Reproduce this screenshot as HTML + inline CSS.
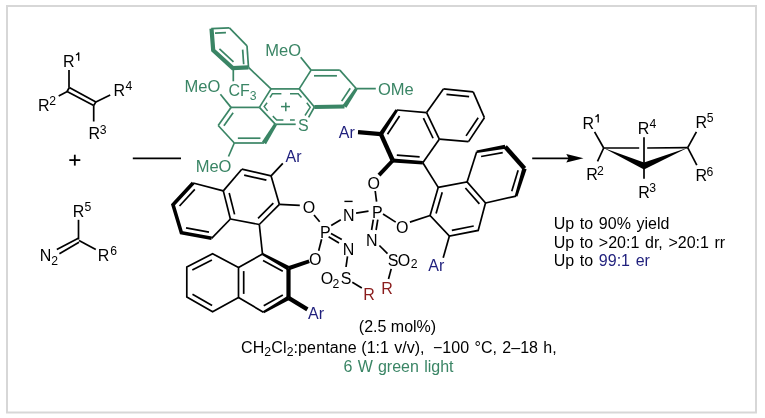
<!DOCTYPE html>
<html><head><meta charset="utf-8"><style>
html,body{margin:0;padding:0;background:#fff;}
svg{display:block;will-change:transform;}
text{font-family:"Liberation Sans",sans-serif;}
</style></head><body>
<svg width="765" height="418" viewBox="0 0 765 418">
<rect x="7" y="6" width="749" height="406.5" fill="none" stroke="#d7d7d7" stroke-width="2"/>
<line x1="69.00" y1="70.00" x2="69.00" y2="87.60" stroke="#000" stroke-width="1.7" stroke-linecap="butt"/>
<line x1="69.30" y1="87.50" x2="95.90" y2="101.90" stroke="#000" stroke-width="1.7" stroke-linecap="butt"/>
<line x1="67.10" y1="91.50" x2="93.70" y2="105.50" stroke="#000" stroke-width="1.7" stroke-linecap="butt"/>
<line x1="69.30" y1="87.50" x2="67.10" y2="91.50" stroke="#000" stroke-width="1.7" stroke-linecap="butt"/>
<line x1="95.90" y1="101.90" x2="93.70" y2="105.50" stroke="#000" stroke-width="1.7" stroke-linecap="butt"/>
<line x1="67.30" y1="91.60" x2="58.70" y2="95.90" stroke="#000" stroke-width="1.7" stroke-linecap="butt"/>
<line x1="95.90" y1="101.90" x2="110.20" y2="95.10" stroke="#000" stroke-width="1.7" stroke-linecap="butt"/>
<line x1="93.70" y1="105.50" x2="93.70" y2="121.50" stroke="#000" stroke-width="1.7" stroke-linecap="butt"/>
<text x="63.09" y="66.50" font-size="16" fill="#000" >R</text>
<path d="M75.90,54.94 C77.36,54.70 78.10,53.97 78.71,52.50 L78.71,60.80" stroke="#000" stroke-width="1.28" fill="none"/>
<text x="37.99" y="110.80" font-size="16" fill="#000" >R</text>
<text x="49.29" y="104.60" font-size="12.2" fill="#000" >2</text>
<text x="113.59" y="95.90" font-size="16" fill="#000" >R</text>
<text x="125.62" y="89.80" font-size="12.2" fill="#000" >4</text>
<text x="88.39" y="139.40" font-size="16" fill="#000" >R</text>
<text x="99.64" y="134.00" font-size="12.2" fill="#000" >3</text>
<line x1="69.30" y1="160.10" x2="80.30" y2="160.10" stroke="#000" stroke-width="1.8" stroke-linecap="butt"/>
<line x1="74.80" y1="154.70" x2="74.80" y2="165.60" stroke="#000" stroke-width="1.8" stroke-linecap="butt"/>
<line x1="78.50" y1="219.80" x2="78.50" y2="239.50" stroke="#000" stroke-width="1.7" stroke-linecap="butt"/>
<line x1="78.30" y1="238.30" x2="56.80" y2="249.50" stroke="#000" stroke-width="1.7" stroke-linecap="butt"/>
<line x1="79.00" y1="242.30" x2="59.40" y2="253.80" stroke="#000" stroke-width="1.7" stroke-linecap="butt"/>
<line x1="79.00" y1="240.50" x2="95.80" y2="249.60" stroke="#000" stroke-width="1.7" stroke-linecap="butt"/>
<text x="72.69" y="216.50" font-size="16" fill="#000" >R</text>
<text x="84.61" y="210.90" font-size="12.2" fill="#000" >5</text>
<text x="39.79" y="260.50" font-size="16" fill="#000" >N</text>
<text x="51.29" y="264.80" font-size="12.2" fill="#000" >2</text>
<text x="97.69" y="260.80" font-size="16" fill="#000" >R</text>
<text x="110.18" y="254.60" font-size="12.2" fill="#000" >6</text>
<line x1="132.80" y1="158.30" x2="181.00" y2="158.30" stroke="#000" stroke-width="1.7" stroke-linecap="butt"/>
<line x1="532.20" y1="158.30" x2="572.00" y2="158.30" stroke="#000" stroke-width="1.8" stroke-linecap="butt"/>
<polygon points="583.50,158.30 566.30,154.00 568.60,158.30 566.30,162.60" fill="#000"/>
<line x1="211.20" y1="28.60" x2="229.40" y2="27.90" stroke="#3a8565" stroke-width="1.7" stroke-linecap="butt"/>
<line x1="229.40" y1="27.90" x2="247.00" y2="45.80" stroke="#3a8565" stroke-width="1.7" stroke-linecap="butt"/>
<line x1="247.00" y1="45.80" x2="248.50" y2="67.40" stroke="#3a8565" stroke-width="1.7" stroke-linecap="butt"/>
<path d="M211.5,28.6 L213.2,50.2 L232.7,68.1 L248.5,67.4" stroke="#3a8565" stroke-width="4.2" fill="none" stroke-linejoin="miter" />
<line x1="215.02" y1="33.06" x2="225.94" y2="32.64" stroke="#3a8565" stroke-width="1.7" stroke-linecap="butt"/>
<line x1="219.45" y1="48.88" x2="233.49" y2="61.76" stroke="#3a8565" stroke-width="1.7" stroke-linecap="butt"/>
<line x1="242.65" y1="49.57" x2="243.67" y2="64.26" stroke="#3a8565" stroke-width="1.7" stroke-linecap="butt"/>
<line x1="248.50" y1="67.40" x2="271.00" y2="88.90" stroke="#3a8565" stroke-width="1.7" stroke-linecap="butt"/>
<line x1="233.30" y1="68.00" x2="233.30" y2="81.30" stroke="#3a8565" stroke-width="1.7" stroke-linecap="butt"/>
<text x="228.39" y="95.80" font-size="16" fill="#3a8565" >CF</text>
<text x="249.64" y="99.70" font-size="12.2" fill="#3a8565" >3</text>
<line x1="271.00" y1="88.90" x2="299.20" y2="88.90" stroke="#3a8565" stroke-width="1.7" stroke-linecap="butt"/>
<line x1="299.20" y1="88.90" x2="314.40" y2="107.00" stroke="#3a8565" stroke-width="1.7" stroke-linecap="butt"/>
<line x1="314.40" y1="107.00" x2="308.60" y2="117.30" stroke="#3a8565" stroke-width="1.7" stroke-linecap="butt"/>
<line x1="295.70" y1="124.30" x2="275.50" y2="124.30" stroke="#3a8565" stroke-width="1.7" stroke-linecap="butt"/>
<line x1="275.50" y1="124.30" x2="259.40" y2="107.40" stroke="#3a8565" stroke-width="1.7" stroke-linecap="butt"/>
<line x1="259.40" y1="107.40" x2="271.00" y2="88.90" stroke="#3a8565" stroke-width="1.7" stroke-linecap="butt"/>
<path d="M270,97.5 L272.4,93.7 L281.4,93.7" stroke="#3a8565" stroke-width="1.5" fill="none" stroke-linejoin="miter" />
<path d="M290,93.7 L298.2,93.7 L301.5,97.5" stroke="#3a8565" stroke-width="1.5" fill="none" stroke-linejoin="miter" />
<path d="M267.1,102.7 L264.2,106.6 L267.6,110.9" stroke="#3a8565" stroke-width="1.5" fill="none" stroke-linejoin="miter" />
<path d="M306.8,102.7 L310.2,107.3 L305,115.5" stroke="#3a8565" stroke-width="1.5" fill="none" stroke-linejoin="miter" />
<path d="M272.8,116.1 L276.7,120 L283.4,120" stroke="#3a8565" stroke-width="1.5" fill="none" stroke-linejoin="miter" />
<line x1="290.00" y1="120.00" x2="294.80" y2="120.00" stroke="#3a8565" stroke-width="1.5" stroke-linecap="butt"/>
<text x="298.07" y="131.40" font-size="16" fill="#3a8565" >S</text>
<line x1="281.00" y1="106.60" x2="290.00" y2="106.60" stroke="#3a8565" stroke-width="1.5" stroke-linecap="butt"/>
<line x1="285.80" y1="102.40" x2="285.80" y2="111.20" stroke="#3a8565" stroke-width="1.5" stroke-linecap="butt"/>
<line x1="231.00" y1="107.40" x2="259.40" y2="107.40" stroke="#3a8565" stroke-width="1.7" stroke-linecap="butt"/>
<line x1="231.00" y1="107.40" x2="218.20" y2="125.50" stroke="#3a8565" stroke-width="1.7" stroke-linecap="butt"/>
<line x1="218.20" y1="125.50" x2="234.30" y2="143.00" stroke="#3a8565" stroke-width="1.7" stroke-linecap="butt"/>
<line x1="234.30" y1="143.00" x2="264.00" y2="143.00" stroke="#3a8565" stroke-width="1.7" stroke-linecap="butt"/>
<polygon points="274.14,123.46 261.96,141.74 266.04,144.26 276.86,125.14" fill="#3a8565"/>
<line x1="233.13" y1="112.71" x2="223.91" y2="125.74" stroke="#3a8565" stroke-width="1.7" stroke-linecap="butt"/>
<line x1="237.86" y1="138.20" x2="260.44" y2="138.20" stroke="#3a8565" stroke-width="1.7" stroke-linecap="butt"/>
<line x1="299.20" y1="88.90" x2="311.10" y2="70.10" stroke="#3a8565" stroke-width="1.7" stroke-linecap="butt"/>
<line x1="311.10" y1="70.10" x2="339.80" y2="70.10" stroke="#3a8565" stroke-width="1.7" stroke-linecap="butt"/>
<line x1="339.80" y1="70.10" x2="356.40" y2="88.70" stroke="#3a8565" stroke-width="1.7" stroke-linecap="butt"/>
<polygon points="355.15,87.87 342.58,105.33 346.42,107.87 357.65,89.53" fill="#3a8565"/>
<polygon points="344.47,104.60 314.37,105.00 314.43,109.00 344.53,108.60" fill="#3a8565"/>
<line x1="313.97" y1="75.80" x2="336.93" y2="75.80" stroke="#3a8565" stroke-width="1.7" stroke-linecap="butt"/>
<line x1="350.24" y1="88.22" x2="341.67" y2="101.10" stroke="#3a8565" stroke-width="1.7" stroke-linecap="butt"/>
<text transform="translate(265.24,55.60) scale(1.035,1)" font-size="16" fill="#3a8565" >MeO</text>
<line x1="300.70" y1="57.30" x2="311.10" y2="70.10" stroke="#3a8565" stroke-width="1.7" stroke-linecap="butt"/>
<text transform="translate(377.92,95.10) scale(1.035,1)" font-size="16" fill="#3a8565" >OMe</text>
<line x1="356.40" y1="88.70" x2="375.80" y2="88.60" stroke="#3a8565" stroke-width="1.7" stroke-linecap="butt"/>
<text transform="translate(184.54,92.40) scale(1.035,1)" font-size="16" fill="#3a8565" >MeO</text>
<line x1="220.40" y1="94.20" x2="231.00" y2="107.40" stroke="#3a8565" stroke-width="1.7" stroke-linecap="butt"/>
<text transform="translate(195.64,171.50) scale(1.035,1)" font-size="16" fill="#3a8565" >MeO</text>
<line x1="234.30" y1="143.00" x2="228.50" y2="156.50" stroke="#3a8565" stroke-width="1.7" stroke-linecap="butt"/>
<path d="M193.1,183 L173,204.8 L181.4,232.8 L211.6,238.3" stroke="#000" stroke-width="3.6" fill="none" stroke-linejoin="miter" />
<line x1="193.10" y1="183.00" x2="223.30" y2="190.90" stroke="#000" stroke-width="1.7" stroke-linecap="butt"/>
<line x1="211.60" y1="238.30" x2="230.40" y2="219.00" stroke="#000" stroke-width="1.7" stroke-linecap="butt"/>
<line x1="223.30" y1="190.90" x2="230.40" y2="219.00" stroke="#000" stroke-width="1.7" stroke-linecap="butt"/>
<line x1="223.30" y1="190.90" x2="241.80" y2="169.20" stroke="#000" stroke-width="1.7" stroke-linecap="butt"/>
<line x1="241.80" y1="169.20" x2="271.10" y2="175.90" stroke="#000" stroke-width="1.7" stroke-linecap="butt"/>
<line x1="271.10" y1="175.90" x2="279.40" y2="204.40" stroke="#000" stroke-width="1.7" stroke-linecap="butt"/>
<line x1="279.40" y1="204.40" x2="259.30" y2="224.50" stroke="#000" stroke-width="1.7" stroke-linecap="butt"/>
<line x1="259.30" y1="224.50" x2="230.40" y2="219.00" stroke="#000" stroke-width="1.7" stroke-linecap="butt"/>
<line x1="194.81" y1="189.41" x2="179.53" y2="205.98" stroke="#000" stroke-width="1.7" stroke-linecap="butt"/>
<line x1="186.03" y1="227.95" x2="208.98" y2="232.13" stroke="#000" stroke-width="1.7" stroke-linecap="butt"/>
<line x1="229.19" y1="193.00" x2="234.59" y2="214.35" stroke="#000" stroke-width="1.7" stroke-linecap="butt"/>
<line x1="244.16" y1="175.07" x2="266.42" y2="180.17" stroke="#000" stroke-width="1.7" stroke-linecap="butt"/>
<line x1="273.31" y1="203.14" x2="258.04" y2="218.41" stroke="#000" stroke-width="1.7" stroke-linecap="butt"/>
<path d="M212.60,253.70 L238.50,267.50 L238.50,297.50 L212.60,311.80 L186.80,297.00 L186.80,267.10 Z" stroke="#000" stroke-width="1.7" fill="none" stroke-linejoin="miter" />
<line x1="238.50" y1="267.50" x2="262.50" y2="254.00" stroke="#000" stroke-width="1.7" stroke-linecap="butt"/>
<line x1="238.50" y1="297.50" x2="263.40" y2="312.20" stroke="#000" stroke-width="1.7" stroke-linecap="butt"/>
<polygon points="261.92,255.05 287.44,270.23 289.56,266.37 263.08,252.95" fill="#000"/>
<polygon points="286.40,268.30 286.40,297.90 290.60,297.90 290.60,268.30" fill="#000"/>
<polygon points="287.41,295.99 262.81,311.16 263.99,313.24 289.59,299.81" fill="#000"/>
<line x1="192.29" y1="270.11" x2="211.90" y2="259.92" stroke="#000" stroke-width="1.7" stroke-linecap="butt"/>
<line x1="192.48" y1="294.27" x2="212.09" y2="305.51" stroke="#000" stroke-width="1.7" stroke-linecap="butt"/>
<line x1="243.70" y1="271.10" x2="243.70" y2="293.90" stroke="#000" stroke-width="1.7" stroke-linecap="butt"/>
<line x1="263.02" y1="260.45" x2="282.78" y2="271.32" stroke="#000" stroke-width="1.7" stroke-linecap="butt"/>
<line x1="282.81" y1="294.92" x2="263.74" y2="305.79" stroke="#000" stroke-width="1.7" stroke-linecap="butt"/>
<line x1="259.30" y1="224.50" x2="262.50" y2="254.00" stroke="#000" stroke-width="1.7" stroke-linecap="butt"/>
<line x1="396.80" y1="110.00" x2="426.60" y2="112.60" stroke="#000" stroke-width="1.7" stroke-linecap="butt"/>
<line x1="426.60" y1="112.60" x2="439.30" y2="139.20" stroke="#000" stroke-width="1.7" stroke-linecap="butt"/>
<line x1="439.30" y1="139.20" x2="422.80" y2="162.80" stroke="#000" stroke-width="1.7" stroke-linecap="butt"/>
<polygon points="395.55,109.17 379.06,132.89 382.74,135.31 398.05,110.83" fill="#000"/>
<polygon points="378.89,135.00 390.79,161.40 394.81,159.60 382.91,133.20" fill="#000"/>
<polygon points="392.65,162.49 422.67,164.50 422.93,161.10 392.95,158.51" fill="#000"/>
<line x1="426.60" y1="112.60" x2="443.40" y2="88.90" stroke="#000" stroke-width="1.7" stroke-linecap="butt"/>
<line x1="443.40" y1="88.90" x2="473.20" y2="91.90" stroke="#000" stroke-width="1.7" stroke-linecap="butt"/>
<line x1="473.20" y1="91.90" x2="484.40" y2="117.70" stroke="#000" stroke-width="1.7" stroke-linecap="butt"/>
<line x1="484.40" y1="117.70" x2="468.50" y2="141.60" stroke="#000" stroke-width="1.7" stroke-linecap="butt"/>
<line x1="468.50" y1="141.60" x2="439.30" y2="139.20" stroke="#000" stroke-width="1.7" stroke-linecap="butt"/>
<line x1="399.57" y1="115.98" x2="387.48" y2="134.29" stroke="#000" stroke-width="1.7" stroke-linecap="butt"/>
<line x1="396.83" y1="155.19" x2="419.63" y2="156.94" stroke="#000" stroke-width="1.7" stroke-linecap="butt"/>
<line x1="423.43" y1="118.03" x2="433.08" y2="138.25" stroke="#000" stroke-width="1.7" stroke-linecap="butt"/>
<line x1="446.46" y1="94.43" x2="469.10" y2="96.71" stroke="#000" stroke-width="1.7" stroke-linecap="butt"/>
<line x1="478.16" y1="117.69" x2="466.08" y2="135.85" stroke="#000" stroke-width="1.7" stroke-linecap="butt"/>
<path d="M438.20,187.40 L467.10,182.00 L485.50,203.00 L478.20,230.40 L449.40,236.10 L430.10,215.50 Z" stroke="#000" stroke-width="1.7" fill="none" stroke-linejoin="miter" />
<line x1="467.10" y1="182.00" x2="476.70" y2="151.80" stroke="#000" stroke-width="1.7" stroke-linecap="butt"/>
<line x1="516.10" y1="196.10" x2="485.50" y2="203.00" stroke="#000" stroke-width="1.7" stroke-linecap="butt"/>
<polygon points="476.93,153.08 505.57,148.77 504.83,144.63 476.47,150.52" fill="#000"/>
<polygon points="503.55,148.16 522.85,169.96 526.15,167.04 506.85,145.24" fill="#000"/>
<polygon points="522.40,167.86 514.76,195.69 517.44,196.51 526.60,169.14" fill="#000"/>
<line x1="442.22" y1="192.21" x2="436.07" y2="213.57" stroke="#000" stroke-width="1.7" stroke-linecap="butt"/>
<line x1="465.40" y1="187.95" x2="479.38" y2="203.91" stroke="#000" stroke-width="1.7" stroke-linecap="butt"/>
<line x1="451.85" y1="230.31" x2="473.73" y2="225.98" stroke="#000" stroke-width="1.7" stroke-linecap="butt"/>
<line x1="481.07" y1="156.50" x2="502.73" y2="152.63" stroke="#000" stroke-width="1.7" stroke-linecap="butt"/>
<line x1="518.13" y1="170.18" x2="511.75" y2="191.16" stroke="#000" stroke-width="1.7" stroke-linecap="butt"/>
<line x1="422.80" y1="162.80" x2="438.20" y2="187.40" stroke="#000" stroke-width="1.7" stroke-linecap="butt"/>
<text x="302.64" y="212.90" font-size="16" fill="#000" >O</text>
<text x="320.09" y="237.60" font-size="16" fill="#000" >P</text>
<text x="342.89" y="220.80" font-size="16" fill="#000" >N</text>
<line x1="344.40" y1="201.40" x2="352.60" y2="201.40" stroke="#000" stroke-width="1.4" stroke-linecap="butt"/>
<text x="371.99" y="217.70" font-size="16" fill="#000" >P</text>
<text x="367.54" y="189.10" font-size="16" fill="#000" >O</text>
<text x="342.69" y="255.30" font-size="16" fill="#000" >N</text>
<text x="365.89" y="246.20" font-size="16" fill="#000" >N</text>
<text x="309.04" y="264.70" font-size="16" fill="#000" >O</text>
<text x="395.94" y="233.00" font-size="16" fill="#000" >O</text>
<text x="320.84" y="284.00" font-size="16" fill="#000" >O</text>
<text x="332.49" y="287.80" font-size="12.2" fill="#000" >2</text>
<text x="340.87" y="284.00" font-size="16" fill="#000" >S</text>
<text x="363.29" y="299.50" font-size="16" fill="#8a1c1c" >R</text>
<text x="387.77" y="265.80" font-size="16" fill="#000" >S</text>
<text x="397.84" y="265.80" font-size="16" fill="#000" >O</text>
<text x="410.79" y="268.40" font-size="12.2" fill="#000" >2</text>
<text x="381.29" y="293.50" font-size="16" fill="#8a1c1c" >R</text>
<text x="285.47" y="161.70" font-size="16" fill="#1f1f7c" >Ar</text>
<text x="308.07" y="318.80" font-size="16" fill="#1f1f7c" >Ar</text>
<text x="338.87" y="138.40" font-size="16" fill="#1f1f7c" >Ar</text>
<text x="428.37" y="270.60" font-size="16" fill="#1f1f7c" >Ar</text>
<line x1="314.00" y1="215.00" x2="319.70" y2="221.70" stroke="#000" stroke-width="1.7" stroke-linecap="butt"/>
<line x1="331.20" y1="225.60" x2="340.80" y2="219.80" stroke="#000" stroke-width="1.7" stroke-linecap="butt"/>
<line x1="356.10" y1="213.10" x2="368.50" y2="211.20" stroke="#000" stroke-width="1.7" stroke-linecap="butt"/>
<line x1="375.20" y1="191.00" x2="376.60" y2="201.60" stroke="#000" stroke-width="1.7" stroke-linecap="butt"/>
<line x1="383.00" y1="214.00" x2="395.70" y2="222.10" stroke="#000" stroke-width="1.7" stroke-linecap="butt"/>
<line x1="409.90" y1="222.10" x2="430.10" y2="215.50" stroke="#000" stroke-width="1.7" stroke-linecap="butt"/>
<line x1="331.00" y1="233.40" x2="341.80" y2="239.60" stroke="#000" stroke-width="1.7" stroke-linecap="butt"/>
<line x1="328.60" y1="236.80" x2="339.00" y2="243.00" stroke="#000" stroke-width="1.7" stroke-linecap="butt"/>
<line x1="373.30" y1="219.60" x2="371.60" y2="230.00" stroke="#000" stroke-width="1.7" stroke-linecap="butt"/>
<line x1="377.80" y1="219.60" x2="376.10" y2="230.00" stroke="#000" stroke-width="1.7" stroke-linecap="butt"/>
<line x1="321.60" y1="239.20" x2="318.70" y2="250.70" stroke="#000" stroke-width="1.7" stroke-linecap="butt"/>
<polygon points="308.58,259.40 287.82,266.31 289.18,270.29 309.82,263.00" fill="#000"/>
<line x1="347.50" y1="256.40" x2="346.00" y2="267.00" stroke="#000" stroke-width="1.7" stroke-linecap="butt"/>
<line x1="352.30" y1="282.30" x2="361.80" y2="288.00" stroke="#000" stroke-width="1.7" stroke-linecap="butt"/>
<line x1="379.40" y1="245.50" x2="387.50" y2="253.60" stroke="#000" stroke-width="1.7" stroke-linecap="butt"/>
<line x1="391.20" y1="268.90" x2="388.50" y2="279.00" stroke="#000" stroke-width="1.7" stroke-linecap="butt"/>
<line x1="279.40" y1="204.40" x2="299.80" y2="205.40" stroke="#000" stroke-width="1.7" stroke-linecap="butt"/>
<polygon points="391.34,159.13 377.54,173.83 380.46,176.57 394.26,161.87" fill="#000"/>
<polygon points="381.07,132.01 358.17,130.11 357.83,134.29 380.73,136.19" fill="#000"/>
<line x1="271.10" y1="175.90" x2="282.80" y2="163.40" stroke="#000" stroke-width="1.7" stroke-linecap="butt"/>
<polygon points="287.41,299.69 306.31,311.19 308.49,307.61 289.59,296.11" fill="#000"/>
<line x1="449.40" y1="236.10" x2="443.20" y2="257.80" stroke="#000" stroke-width="1.7" stroke-linecap="butt"/>
<line x1="594.60" y1="131.90" x2="603.70" y2="148.00" stroke="#000" stroke-width="1.7" stroke-linecap="butt"/>
<line x1="603.70" y1="148.00" x2="597.50" y2="161.40" stroke="#000" stroke-width="1.7" stroke-linecap="butt"/>
<line x1="603.70" y1="148.00" x2="639.20" y2="148.00" stroke="#000" stroke-width="1.7" stroke-linecap="butt"/>
<line x1="647.20" y1="148.00" x2="687.70" y2="147.70" stroke="#000" stroke-width="1.7" stroke-linecap="butt"/>
<line x1="644.00" y1="137.30" x2="644.00" y2="178.80" stroke="#000" stroke-width="1.7" stroke-linecap="butt"/>
<polygon points="603.70,148.00 644.00,162.40 644.00,169.40" fill="#000"/>
<polygon points="687.70,147.70 644.00,162.40 644.00,169.40" fill="#000"/>
<line x1="687.70" y1="147.70" x2="696.40" y2="131.80" stroke="#000" stroke-width="1.7" stroke-linecap="butt"/>
<line x1="687.70" y1="147.70" x2="696.80" y2="165.20" stroke="#000" stroke-width="1.7" stroke-linecap="butt"/>
<text x="582.59" y="128.70" font-size="16" fill="#000" >R</text>
<path d="M595.40,116.74 C596.86,116.50 597.60,115.77 598.21,114.30 L598.21,122.60" stroke="#000" stroke-width="1.28" fill="none"/>
<text x="586.19" y="180.10" font-size="16" fill="#000" >R</text>
<text x="596.99" y="174.70" font-size="12.2" fill="#000" >2</text>
<text x="637.79" y="133.60" font-size="16" fill="#000" >R</text>
<text x="649.62" y="128.20" font-size="12.2" fill="#000" >4</text>
<text x="638.19" y="197.90" font-size="16" fill="#000" >R</text>
<text x="649.24" y="192.30" font-size="12.2" fill="#000" >3</text>
<text x="695.49" y="127.70" font-size="16" fill="#000" >R</text>
<text x="706.81" y="121.90" font-size="12.2" fill="#000" >5</text>
<text x="695.49" y="180.70" font-size="16" fill="#000" >R</text>
<text x="706.38" y="175.60" font-size="12.2" fill="#000" >6</text>
<text x="553.77" y="229.10" font-size="16" fill="#000" word-spacing="1.2">Up to 90% yield</text>
<text x="553.77" y="247.50" font-size="16" fill="#000" word-spacing="1.2">Up to &gt;20:1 dr, &gt;20:1 rr</text>
<text x="553.77" y="266.1" font-size="16" fill="#000" word-spacing="1.2">Up to <tspan fill="#1f1f7c">99:1 er</tspan></text>
<text x="397.5" y="332.2" font-size="16" text-anchor="middle" fill="#000">(2.5 mol%)</text>
<text x="241" y="352.7" font-size="16" fill="#000" letter-spacing="0.12">CH<tspan font-size="12.2" dy="3">2</tspan><tspan dy="-3">Cl</tspan><tspan font-size="12.2" dy="3">2</tspan><tspan dy="-3">:pentane</tspan></text>
<text x="361.31" y="352.70" font-size="16" fill="#000" word-spacing="1">(1:1 v/v),</text>
<text x="433.01" y="352.70" font-size="16" fill="#000" word-spacing="1">−100 °C, 2–18 h,</text>
<text x="398.5" y="371.5" font-size="16" text-anchor="middle" fill="#3a8565" word-spacing="0.8">6 W green light</text>
</svg>
</body></html>
